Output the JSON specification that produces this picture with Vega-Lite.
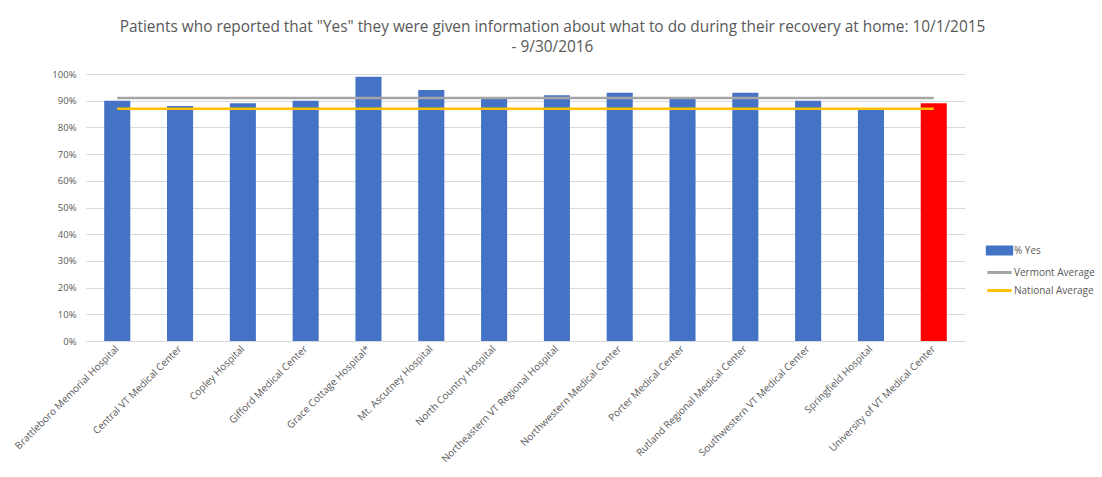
{
  "$schema": "https://vega.github.io/schema/vega-lite/v6.json",
  "autosize": {"type": "none"},
  "width": 879,
  "height": 267,
  "padding": {"left": 86, "top": 74, "right": 137, "bottom": 136},
  "background": "white",
  "config": {
    "font": "Open Sans",
    "view": {"stroke": null},
    "axisY": {
      "format": ".0%",
      "labelFontSize": 9.5,
      "labelColor": "#595959",
      "labelPadding": 10,
      "ticks": false,
      "domain": false,
      "gridColor": "#D9D9D9",
      "labelOverlap": false,
      "title": null
    }
  },
  "title": {
    "text": ["Patients who reported that \"Yes\" they were given information about what to do during their recovery at home: 10/1/2015", "- 9/30/2016"],
    "font": "Open Sans",
    "fontSize": 15.4,
    "fontWeight": "normal",
    "color": "#595959",
    "anchor": "middle",
    "dx": 27,
    "offset": 14,
    "lineHeight": 20
  },
  "data": {
    "values": [
      {"hospital": "Brattleboro Memorial Hospital", "yes": 0.90, "vt": 0.91, "nat": 0.87},
      {"hospital": "Central VT Medical Center", "yes": 0.88, "vt": 0.91, "nat": 0.87},
      {"hospital": "Copley Hospital", "yes": 0.89, "vt": 0.91, "nat": 0.87},
      {"hospital": "Gifford Medical Center", "yes": 0.90, "vt": 0.91, "nat": 0.87},
      {"hospital": "Grace Cottage Hospital*", "yes": 0.99, "vt": 0.91, "nat": 0.87},
      {"hospital": "Mt. Ascutney Hospital", "yes": 0.94, "vt": 0.91, "nat": 0.87},
      {"hospital": "North Country Hospital", "yes": 0.91, "vt": 0.91, "nat": 0.87},
      {"hospital": "Northeastern VT Regional Hospital", "yes": 0.92, "vt": 0.91, "nat": 0.87},
      {"hospital": "Northwestern Medical Center", "yes": 0.93, "vt": 0.91, "nat": 0.87},
      {"hospital": "Porter Medical Center", "yes": 0.91, "vt": 0.91, "nat": 0.87},
      {"hospital": "Rutland Regional Medical Center", "yes": 0.93, "vt": 0.91, "nat": 0.87},
      {"hospital": "Southwestern VT Medical Center", "yes": 0.90, "vt": 0.91, "nat": 0.87},
      {"hospital": "Springfield Hospital", "yes": 0.87, "vt": 0.91, "nat": 0.87},
      {"hospital": "University of VT Medical Center", "yes": 0.89, "vt": 0.91, "nat": 0.87}
    ]
  },
  "encoding": {
    "x": {
      "field": "hospital",
      "type": "nominal",
      "sort": null,
      "title": null,
      "scale": {"paddingInner": 0.585, "paddingOuter": 0.29},
      "axis": {
        "labelAngle": -45,
        "labelAlign": "right",
        "labelBaseline": "middle",
        "labelFontSize": 10,
        "labelColor": "#595959",
        "labelPadding": 6,
        "ticks": false,
        "domainColor": "#D9D9D9",
        "labelLimit": 300
      }
    }
  },
  "layer": [
    {
      "mark": {"type": "bar"},
      "encoding": {
        "y": {
          "field": "yes",
          "type": "quantitative",
          "title": null,
          "scale": {"domain": [0, 1]},
          "axis": {"values": [0, 0.1, 0.2, 0.3, 0.4, 0.5, 0.6, 0.7, 0.8, 0.9, 1]}
        },
        "color": {
          "condition": {"test": "datum.hospital === 'University of VT Medical Center'", "value": "#FF0000"},
          "datum": "% Yes"
        }
      }
    },
    {
      "mark": {"type": "line", "strokeWidth": 2.5},
      "encoding": {
        "y": {
          "field": "vt",
          "type": "quantitative",
          "axis": {"values": [0, 0.1, 0.2, 0.3, 0.4, 0.5, 0.6, 0.7, 0.8, 0.9, 1]}
        },
        "color": {"datum": "Vermont Average"}
      }
    },
    {
      "mark": {"type": "line", "strokeWidth": 2.5},
      "encoding": {
        "y": {
          "field": "nat",
          "type": "quantitative",
          "axis": {"values": [0, 0.1, 0.2, 0.3, 0.4, 0.5, 0.6, 0.7, 0.8, 0.9, 1]}
        },
        "color": {
          "datum": "National Average",
          "scale": {
            "domain": ["% Yes", "Vermont Average", "National Average"],
            "range": ["#4472C4", "#A5A5A5", "#FFC000"]
          },
          "legend": {
            "title": null,
            "orient": "none",
            "legendX": 903,
            "legendY": 166,
            "labelFont": "Open Sans",
            "labelFontSize": 10,
            "labelColor": "#595959",
            "symbolSize": 324,
            "labelOffset": 4,
            "rowPadding": 1,
            "encode": {
              "symbols": {
                "update": {
                  "shape": {"signal": "datum.label === '% Yes' ? 'M-1.35,-0.4H1.35V0.4H-1.35Z' : 'M-1.35,0H1.35'"},
                  "fill": {"signal": "datum.label === '% Yes' ? '#4472C4' : 'transparent'"},
                  "stroke": {"signal": "datum.label === '% Yes' ? 'transparent' : (datum.label === 'Vermont Average' ? '#A5A5A5' : '#FFC000')"},
                  "strokeWidth": {"value": 3},
                  "opacity": {"value": 1}
                }
              }
            }
          }
        }
      }
    }
  ]
}
